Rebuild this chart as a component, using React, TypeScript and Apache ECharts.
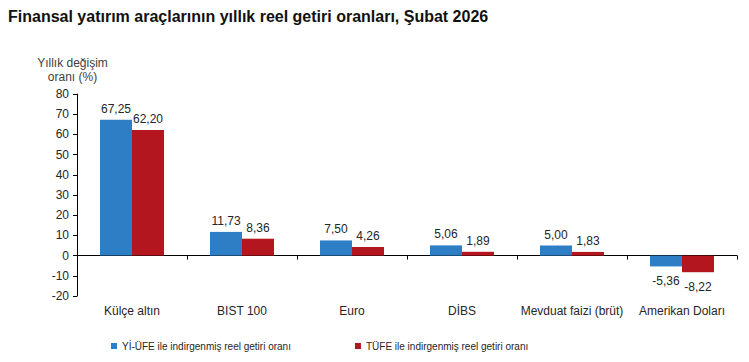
import React, { useEffect, useRef } from "react";
import * as echarts from "echarts";

const categories = ["Külçe altın", "BIST 100", "Euro", "DİBS", "Mevduat faizi (brüt)", "Amerikan Doları"];
const yiUfe = [67.25, 11.73, 7.5, 5.06, 5.0, -5.36];
const tufe = [62.2, 8.36, 4.26, 1.89, 1.83, -8.22];
const seriesNames = ["Yİ-ÜFE ile indirgenmiş reel getiri oranı", "TÜFE ile indirgenmiş reel getiri oranı"];
const titleText = "Finansal yatırım araçlarının yıllık reel getiri oranları, Şubat 2026";
const yAxisName = "Yıllık değişim\noranı (%)";

const fmt = (v: number) => v.toFixed(2).replace(".", ",");

export default function App() {
  const ref = useRef<HTMLDivElement>(null);
  useEffect(() => {
    if (!ref.current) return;
    const chart = echarts.init(ref.current, null, { renderer: "svg" });
    const font = "Arial, 'Liberation Sans', sans-serif";
    const label = {
      show: true,
      position: "top",
      color: "#262626",
      fontSize: 12,
      fontFamily: font,
      distance: 5,
      formatter: (p: any) => fmt(p.value),
    };
    const negLabel = { position: "bottom", distance: 9 };
    chart.setOption({
      animation: false,
      backgroundColor: "#ffffff",
      textStyle: { fontFamily: font },
      title: {
        text: titleText,
        left: 3,
        top: 3,
        textStyle: { fontSize: 16, fontWeight: "bold", color: "#111", fontFamily: font },
      },
      legend: {
        top: 336,
        left: 106,
        itemWidth: 6,
        itemHeight: 6,
        itemGap: 64,
        icon: "rect",
        textStyle: { fontSize: 10, color: "#262626", fontFamily: font },
        data: seriesNames,
      },
      grid: { left: 77, right: 12, top: 94, bottom: 66 },
      xAxis: {
        type: "category",
        data: categories,
        axisLine: { onZero: true, lineStyle: { color: "#000", width: 1 } },
        axisTick: { show: true, alignWithLabel: false, length: 4, lineStyle: { color: "#000" } },
        axisLabel: {
          interval: 0,
          color: "#262626",
          fontSize: 12,
          fontFamily: font,
          margin: 9,
        },
      },
      yAxis: {
        type: "value",
        min: -20,
        max: 80,
        interval: 10,
        name: yAxisName,
        nameLocation: "end",
        nameGap: 10,
        nameTextStyle: { color: "#404040", fontSize: 12, align: "center", fontFamily: font, padding: [0, 0, 0, -9], lineHeight: 14 },
        axisLine: { show: true, lineStyle: { color: "#000", width: 1 } },
        axisTick: { show: true, length: 4, lineStyle: { color: "#000" } },
        axisLabel: { color: "#262626", fontSize: 12, fontFamily: font, margin: 8 },
        splitLine: { show: false },
      },
      series: [
        {
          name: seriesNames[0],
          type: "bar",
          data: yiUfe.map((v) => ({ value: v, label: v < 0 ? negLabel : undefined })),
          barWidth: 32,
          barGap: "0%",
          itemStyle: { color: "#2e7ec6" },
          label,
        },
        {
          name: seriesNames[1],
          type: "bar",
          data: tufe.map((v) => ({ value: v, label: v < 0 ? negLabel : undefined })),
          barWidth: 32,
          barGap: "0%",
          itemStyle: { color: "#b3161f" },
          label,
        },
      ],
    });
    return () => chart.dispose();
  }, []);
  return <div ref={ref} style={{ width: 749, height: 362, position: "fixed", left: 0, top: 0 }} />;
}
